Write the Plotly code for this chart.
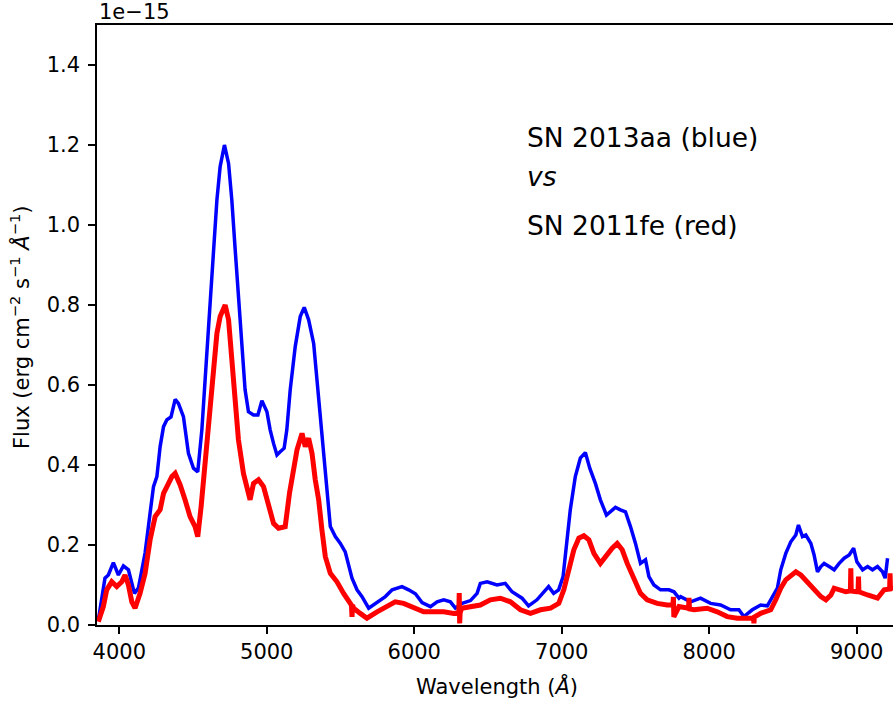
import plotly.graph_objects as go

# SN 2013aa (blue) spectrum: wavelength (Angstrom), flux (1e-15 erg/cm2/s/A)
wl_blue = [3858, 3903, 3926, 3960, 3994, 4028, 4062, 4103, 4130, 4175, 4209, 4232, 4255, 4277, 4300,
           4323, 4351, 4379, 4401, 4435, 4469, 4503, 4532, 4560, 4582, 4605, 4628, 4662, 4684, 4713,
           4741, 4763, 4786, 4808, 4831, 4853, 4876, 4910, 4940, 4967, 5001, 5023, 5046, 5069, 5091,
           5118, 5136, 5159, 5193, 5227, 5254, 5284, 5318, 5340, 5374, 5408, 5431, 5465, 5499, 5532,
           5555, 5578, 5612, 5646, 5691, 5748, 5804, 5850, 5917, 5962, 6008, 6053, 6110, 6155, 6200,
           6245, 6279, 6325, 6381, 6426, 6448, 6494, 6561, 6617, 6663, 6731, 6775, 6832, 6877, 6911,
           6945, 6979, 7009, 7031, 7058, 7092, 7126, 7160, 7190, 7228, 7262, 7303, 7330, 7364, 7398,
           7432, 7466, 7500, 7534, 7568, 7591, 7625, 7670, 7727, 7761, 7795, 7806, 7873, 7941, 8009,
           8077, 8145, 8201, 8235, 8292, 8349, 8394, 8428, 8462, 8485, 8519, 8553, 8587, 8605, 8632,
           8655, 8689, 8711, 8734, 8757, 8779, 8813, 8847, 8881, 8915, 8949, 8979, 9001, 9040, 9074,
           9107, 9141, 9175, 9193, 9209]
flux_blue = [0.012, 0.117, 0.125, 0.156, 0.125, 0.148, 0.138, 0.079, 0.093, 0.180, 0.280, 0.346, 0.371, 0.446, 0.496,
             0.513, 0.520, 0.564, 0.554, 0.521, 0.429, 0.392, 0.383, 0.488, 0.613, 0.738, 0.870, 1.063, 1.146, 1.200,
             1.154, 1.063, 0.938, 0.820, 0.680, 0.588, 0.533, 0.525, 0.525, 0.561, 0.533, 0.488, 0.454, 0.425, 0.433,
             0.442, 0.488, 0.588, 0.696, 0.771, 0.794, 0.763, 0.704, 0.613, 0.488, 0.346, 0.246, 0.221, 0.204, 0.183,
             0.146, 0.117, 0.088, 0.071, 0.042, 0.058, 0.071, 0.088, 0.096, 0.088, 0.078, 0.056, 0.046, 0.058, 0.063,
             0.058, 0.042, 0.054, 0.061, 0.079, 0.104, 0.108, 0.100, 0.104, 0.083, 0.067, 0.048, 0.063, 0.083, 0.096,
             0.079, 0.088, 0.121, 0.188, 0.288, 0.371, 0.417, 0.431, 0.392, 0.354, 0.313, 0.275, 0.283, 0.294, 0.288,
             0.283, 0.246, 0.204, 0.154, 0.163, 0.121, 0.100, 0.088, 0.088, 0.083, 0.067, 0.071, 0.058, 0.067, 0.054,
             0.050, 0.038, 0.038, 0.021, 0.038, 0.050, 0.048, 0.071, 0.092, 0.138, 0.179, 0.208, 0.225, 0.250, 0.221,
             0.225, 0.204, 0.175, 0.133, 0.146, 0.154, 0.146, 0.138, 0.154, 0.167, 0.175, 0.192, 0.158, 0.138, 0.146,
             0.138, 0.146, 0.133, 0.117, 0.167]

# SN 2011fe (red) spectrum
wl_red = [3858, 3892, 3915, 3949, 3983, 4017, 4039, 4062, 4085, 4107, 4141, 4175, 4209, 4243, 4277,
          4300, 4323, 4357, 4379, 4413, 4446, 4480, 4514, 4532, 4555, 4571, 4594, 4616, 4639, 4662,
          4684, 4718, 4741, 4763, 4786, 4808, 4842, 4865, 4887, 4910, 4944, 4978, 5012, 5046, 5080,
          5125, 5154, 5182, 5205, 5239, 5261, 5284, 5307, 5329, 5352, 5374, 5397, 5431, 5476, 5521,
          5555, 5574, 5578, 5582, 5589, 5634, 5679, 5748, 5815, 5871, 5928, 5996, 6064, 6132, 6200,
          6268, 6302, 6305, 6308, 6311, 6321, 6380, 6448, 6516, 6584, 6652, 6720, 6788, 6856, 6924,
          6980, 7014, 7048, 7082, 7116, 7150, 7184, 7218, 7262, 7308, 7342, 7376, 7410, 7444, 7489,
          7534, 7579, 7647, 7715, 7754, 7757, 7760, 7795, 7860, 7863, 7866, 7896, 7986, 8054, 8122,
          8190, 8258, 8300, 8303, 8306, 8349, 8417, 8451, 8485, 8519, 8553, 8587, 8621, 8666, 8711,
          8757, 8791, 8825, 8847, 8893, 8926, 8957, 8960, 8963, 9001, 9009, 9012, 9015, 9074, 9141,
          9186, 9223, 9226, 9229, 9249]
flux_red = [0.008, 0.046, 0.088, 0.108, 0.096, 0.108, 0.125, 0.100, 0.058, 0.042, 0.079, 0.129, 0.213, 0.271, 0.288,
            0.329, 0.346, 0.371, 0.379, 0.350, 0.313, 0.271, 0.246, 0.221, 0.296, 0.363, 0.471, 0.554, 0.654, 0.729,
            0.771, 0.800, 0.763, 0.671, 0.571, 0.463, 0.379, 0.346, 0.313, 0.354, 0.363, 0.346, 0.296, 0.254, 0.242,
            0.246, 0.329, 0.388, 0.438, 0.479, 0.446, 0.467, 0.429, 0.363, 0.313, 0.238, 0.171, 0.129, 0.108, 0.079,
            0.063, 0.050, 0.020, 0.050, 0.042, 0.029, 0.017, 0.033, 0.046, 0.058, 0.054, 0.042, 0.033, 0.033, 0.033,
            0.029, 0.030, 0.080, 0.004, 0.030, 0.042, 0.046, 0.050, 0.063, 0.067, 0.058, 0.038, 0.029, 0.038, 0.042,
            0.054, 0.088, 0.138, 0.188, 0.217, 0.223, 0.213, 0.179, 0.154, 0.179, 0.192, 0.204, 0.188, 0.154, 0.113,
            0.079, 0.063, 0.054, 0.050, 0.050, 0.070, 0.020, 0.046, 0.042, 0.068, 0.040, 0.038, 0.042, 0.033, 0.021,
            0.017, 0.017, 0.017, 0.004, 0.020, 0.029, 0.038, 0.063, 0.092, 0.113, 0.125, 0.133, 0.125, 0.108, 0.088,
            0.071, 0.063, 0.075, 0.092, 0.088, 0.083, 0.085, 0.142, 0.085, 0.083, 0.083, 0.121, 0.083, 0.075, 0.067,
            0.088, 0.090, 0.129, 0.090, 0.096]

x_ticks = [4000, 5000, 6000, 7000, 8000, 9000]
y_ticks = [0.0, 0.2, 0.4, 0.6, 0.8, 1.0, 1.2, 1.4]
y_tick_labels = ["0.0", "0.2", "0.4", "0.6", "0.8", "1.0", "1.2", "1.4"]

FONT = "DejaVu Sans"

fig = go.Figure()
fig.add_trace(go.Scatter(x=wl_blue, y=flux_blue, mode="lines",
                         line=dict(color="#0000ff", width=3.5), showlegend=False))
fig.add_trace(go.Scatter(x=wl_red, y=flux_red, mode="lines",
                         line=dict(color="#ff0000", width=5), showlegend=False))

W, H = 893, 702
L, R, T, B = 97, 0, 25, 77
pw, ph = W - L - R, H - T - B

def px(xp):
    return (xp - L) / pw

def py(yp):
    return (H - B - yp) / ph

fig.update_layout(
    width=W, height=H,
    margin=dict(l=L, r=R, t=T, b=B, pad=0),
    paper_bgcolor="white", plot_bgcolor="white",
    font=dict(family=FONT, size=21, color="black"),
    xaxis=dict(range=[3849, 9246], tickvals=x_ticks, ticks="outside", ticklen=7, tickwidth=1.5,
               tickcolor="black", showline=True, linecolor="black", linewidth=1.5, mirror=True,
               showgrid=False, zeroline=False, tickfont=dict(size=21)),
    yaxis=dict(range=[0, 1.5], tickvals=y_ticks, ticktext=y_tick_labels, ticks="outside", ticklen=7,
               tickwidth=1.5, tickcolor="black", showline=True, linecolor="black", linewidth=1.5,
               mirror=False, showgrid=False, zeroline=False, tickfont=dict(size=21),
               ticklabelstandoff=4),
    annotations=[
        dict(text="1e\u221215", xref="paper", yref="paper", x=0, y=py(12), xanchor="left",
             yanchor="middle", showarrow=False, font=dict(size=21)),
        dict(text="Wavelength (<i>Å</i>)", xref="paper", yref="paper", x=px(497), y=py(686),
             xanchor="center", yanchor="middle", showarrow=False, font=dict(size=21)),
        dict(text="Flux (erg cm<sup>\u22122</sup> s<sup>\u22121</sup> <i>Å</i><sup>\u22121</sup>)",
             xref="paper", yref="paper", x=px(20), y=py(327), xanchor="center", yanchor="middle",
             textangle=-90, showarrow=False, font=dict(size=21)),
        dict(text="SN 2013aa (blue)", xref="paper", yref="paper", x=px(525), y=py(137),
             xanchor="left", yanchor="middle", showarrow=False, font=dict(size=26.5)),
        dict(text="<i>vs</i>", xref="paper", yref="paper", x=px(525), y=py(176),
             xanchor="left", yanchor="middle", showarrow=False, font=dict(size=26.5)),
        dict(text="SN 2011fe (red)", xref="paper", yref="paper", x=px(525), y=py(225),
             xanchor="left", yanchor="middle", showarrow=False, font=dict(size=26.5)),
    ],
)

fig.write_html("out.html")
